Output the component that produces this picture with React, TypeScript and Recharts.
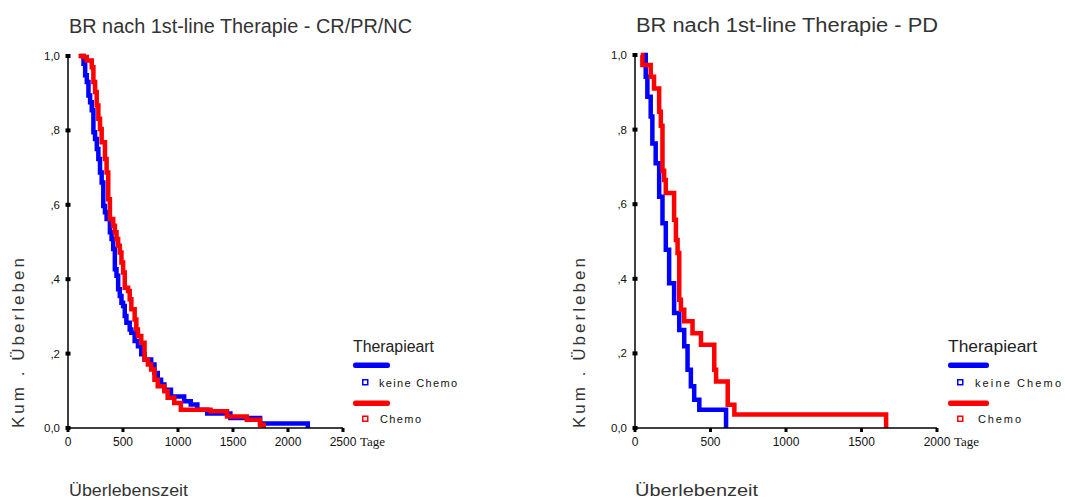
import React from 'react';
import { LineChart, Line, XAxis, YAxis } from 'recharts';

const SANS = '"Liberation Sans", Arial, Helvetica, sans-serif';
const SERIF = '"Liberation Serif", "Times New Roman", serif';
const BLUE = '#0000ff';
const RED = '#ff0000';

// Panel 1: BR nach 1st-line Therapie - CR/PR/NC
const crKeineChemoTage = [111, 141, 156, 171, 186, 201, 216, 231, 246, 262, 276, 291, 306, 321, 336, 351, 381, 396, 411, 426, 441, 456, 471, 486, 501, 516, 531, 561, 576, 606, 636, 666, 696, 756, 786, 816, 846, 876, 936, 1056, 1116, 1176, 1266, 1476, 1746, 2180];
const crKeineChemoUeberleben = [1.0, 0.979, 0.948, 0.93, 0.894, 0.876, 0.854, 0.795, 0.777, 0.75, 0.723, 0.687, 0.66, 0.597, 0.58, 0.562, 0.526, 0.508, 0.481, 0.427, 0.409, 0.373, 0.355, 0.337, 0.328, 0.301, 0.283, 0.265, 0.256, 0.234, 0.22, 0.198, 0.184, 0.171, 0.148, 0.13, 0.117, 0.103, 0.085, 0.072, 0.063, 0.049, 0.039, 0.027, 0.012, 0];
const crChemoTage = [96, 141, 171, 216, 231, 246, 261, 276, 291, 306, 336, 351, 366, 381, 411, 426, 441, 456, 471, 486, 501, 516, 546, 561, 576, 606, 621, 636, 666, 696, 726, 756, 786, 816, 876, 906, 966, 1026, 1296, 1446, 1626, 1746, 1780];
const crChemoUeberleben = [1.0, 0.997, 0.988, 0.97, 0.93, 0.903, 0.867, 0.831, 0.804, 0.768, 0.723, 0.687, 0.615, 0.562, 0.544, 0.526, 0.508, 0.49, 0.472, 0.445, 0.418, 0.377, 0.368, 0.346, 0.319, 0.292, 0.265, 0.247, 0.229, 0.184, 0.171, 0.157, 0.13, 0.112, 0.099, 0.081, 0.067, 0.049, 0.045, 0.031, 0.022, 0.009, 0];

// Panel 2: BR nach 1st-line Therapie - PD
const pdKeineChemoTage = [60, 71, 82, 104, 115, 137, 160, 182, 204, 226, 259, 293, 326, 348, 370, 392, 426, 603];
const pdKeineChemoUeberleben = [1, 0.942, 0.888, 0.835, 0.763, 0.71, 0.62, 0.549, 0.478, 0.388, 0.308, 0.263, 0.219, 0.156, 0.112, 0.076, 0.049, 0];
const pdChemoTage = [38, 49, 104, 126, 160, 171, 182, 193, 204, 259, 271, 282, 293, 304, 326, 381, 437, 525, 537, 614, 658, 1663];
const pdChemoUeberleben = [1, 0.973, 0.942, 0.91, 0.848, 0.81, 0.69, 0.665, 0.63, 0.558, 0.504, 0.469, 0.344, 0.317, 0.286, 0.254, 0.223, 0.156, 0.125, 0.062, 0.036, 0];

const yTicks = [0, 0.2, 0.4, 0.6, 0.8, 1];
const yTickLabels = ['0,0', ',2', ',4', ',6', ',8', '1,0'];
const crXTicks = [0, 500, 1000, 1500, 2000, 2500];
const pdXTicks = [0, 500, 1000, 1500, 2000];

const legendTitle = 'Therapieart';
const seriesNames = ['keine Chemo', 'Chemo'];

const zip = (t: number[], s: number[]) => t.map((v, i) => ({ t: v, s: s[i] }));

const YTick = (props: any) => {
  const { x, y, payload } = props;
  const idx = yTicks.findIndex((v) => Math.abs(v - payload.value) < 1e-6);
  return (
    <g>
      <rect x={x - 2.5} y={y - 2} width={5} height={4} fill="#000" />
      <text x={x - 8} y={y + 4} textAnchor="end" fontSize={11.5} fontFamily={SANS} fill="#111">
        {yTickLabels[idx]}
      </text>
    </g>
  );
};

const makeXTick = (last: number) => (props: any) => {
  const { x, y, payload } = props;
  return (
    <g>
      <rect x={x - 1.5} y={y} width={3} height={4} fill="#000" />
      <text x={x} y={y + 18} textAnchor="middle" fontSize={12} fontFamily={SANS} fill="#111">
        {payload.value}
      </text>
      {payload.value === last && (
        <text x={x + 17} y={y + 18} fontSize={13} fontFamily={SERIF} fill="#111">
          Tage
        </text>
      )}
    </g>
  );
};

type PanelProps = {
  left: number;
  width: number;
  margin: { top: number; right: number; bottom: number; left: number };
  maxX: number;
  ticks: number[];
  blue: { t: number; s: number }[];
  red: { t: number; s: number }[];
};

const Panel = ({ left, width, margin, maxX, ticks, blue, red }: PanelProps) => (
  <div style={{ position: 'absolute', left, top: 0 }}>
    <LineChart width={width} height={500} margin={margin}>
      <XAxis
        type="number"
        dataKey="t"
        domain={[0, maxX]}
        ticks={ticks}
        interval={0}
        height={30}
        tickSize={0}
        tickMargin={0}
        tickLine={false}
        axisLine={{ stroke: '#000', strokeWidth: 1.5 }}
        tick={makeXTick(maxX)}
        allowDataOverflow
      />
      <YAxis
        type="number"
        dataKey="s"
        domain={[0, 1]}
        ticks={yTicks}
        interval={0}
        width={40}
        tickSize={0}
        tickMargin={0}
        tickLine={false}
        axisLine={{ stroke: '#000', strokeWidth: 1.5 }}
        tick={<YTick />}
      />
      <Line
        data={blue}
        dataKey="s"
        type="stepAfter"
        stroke={BLUE}
        strokeWidth={4.5}
        strokeLinecap="butt"
        dot={false}
        activeDot={false}
        isAnimationActive={false}
        name={seriesNames[0]}
      />
      <Line
        data={red}
        dataKey="s"
        type="stepAfter"
        stroke={RED}
        strokeWidth={4.5}
        strokeLinecap="butt"
        dot={false}
        activeDot={false}
        isAnimationActive={false}
        name={seriesNames[1]}
      />
    </LineChart>
  </div>
);

type LegendSpec = {
  x: number;
  titleLen: number;
  barEnd: number;
  sqX: number;
  textX: number;
  textLen: number;
  chemoX: number;
  chemoLen: number;
};

const LegendBlock = ({ x, titleLen, barEnd, sqX, textX, textLen, chemoX, chemoLen }: LegendSpec) => (
  <g>
    <text x={x} y={352} fontSize={16} fontFamily={SANS} fill="#222" textLength={titleLen} lengthAdjust="spacingAndGlyphs">
      {legendTitle}
    </text>
    <rect x={x} y={362.5} width={barEnd - x} height={5.5} rx={2.5} fill={BLUE} />
    <rect x={sqX + 0.75} y={379.75} width={5} height={5} fill="none" stroke={BLUE} strokeWidth={1.5} />
    <text x={textX} y={386.5} fontSize={11} fontFamily={SANS} fill="#111" textLength={textLen} lengthAdjust="spacing">
      {seriesNames[0]}
    </text>
    <rect x={x} y={400.5} width={barEnd - x} height={5.5} rx={2.5} fill={RED} />
    <rect x={sqX + 0.75} y={416.25} width={5} height={5} fill="none" stroke={RED} strokeWidth={1.5} />
    <text x={chemoX} y={423} fontSize={11} fontFamily={SANS} fill="#111" textLength={chemoLen} lengthAdjust="spacing">
      {seriesNames[1]}
    </text>
  </g>
);

export default function App() {
  return (
    <div style={{ position: 'absolute', left: 0, top: 0, width: 1065, height: 500, background: '#fff', fontFamily: SANS }}>
      <Panel
        left={0}
        width={540}
        margin={{ top: 56, right: 197, bottom: 42, left: 28 }}
        maxX={2500}
        ticks={crXTicks}
        blue={zip(crKeineChemoTage, crKeineChemoUeberleben)}
        red={zip(crChemoTage, crChemoUeberleben)}
      />
      <Panel
        left={560}
        width={505}
        margin={{ top: 55, right: 128, bottom: 42, left: 35 }}
        maxX={2000}
        ticks={pdXTicks}
        blue={zip(pdKeineChemoTage, pdKeineChemoUeberleben)}
        red={zip(pdChemoTage, pdChemoUeberleben)}
      />
      <svg width={1065} height={500} style={{ position: 'absolute', left: 0, top: 0, pointerEvents: 'none' }}>
        <text x={69} y={33} fontSize={20} fontFamily={SANS} fill="#333" textLength={343} lengthAdjust="spacingAndGlyphs">
          BR nach 1st-line Therapie - CR/PR/NC
        </text>
        <text x={636} y={32} fontSize={20} fontFamily={SANS} fill="#333" textLength={302} lengthAdjust="spacingAndGlyphs">
          BR nach 1st-line Therapie - PD
        </text>
        <text x={24} y={428} transform="rotate(-90 24 428)" fontSize={17} fontFamily={SANS} fill="#333" textLength={170} lengthAdjust="spacing">
          Kum .  Überleben
        </text>
        <text x={585} y={428} transform="rotate(-90 585 428)" fontSize={17} fontFamily={SANS} fill="#333" textLength={170} lengthAdjust="spacing">
          Kum .  Überleben
        </text>
        <text x={69} y={496} fontSize={16} fontFamily={SANS} fill="#333" textLength={119} lengthAdjust="spacingAndGlyphs">
          Überlebenszeit
        </text>
        <text x={635} y={496} fontSize={16} fontFamily={SANS} fill="#333" textLength={123} lengthAdjust="spacingAndGlyphs">
          Überlebenzeit
        </text>
        <LegendBlock x={353} titleLen={81} barEnd={390} sqX={362} textX={379} textLen={78} chemoX={380} chemoLen={41} />
        <LegendBlock x={948} titleLen={89} barEnd={989} sqX={957} textX={975} textLen={86} chemoX={978} chemoLen={43} />
      </svg>
    </div>
  );
}
